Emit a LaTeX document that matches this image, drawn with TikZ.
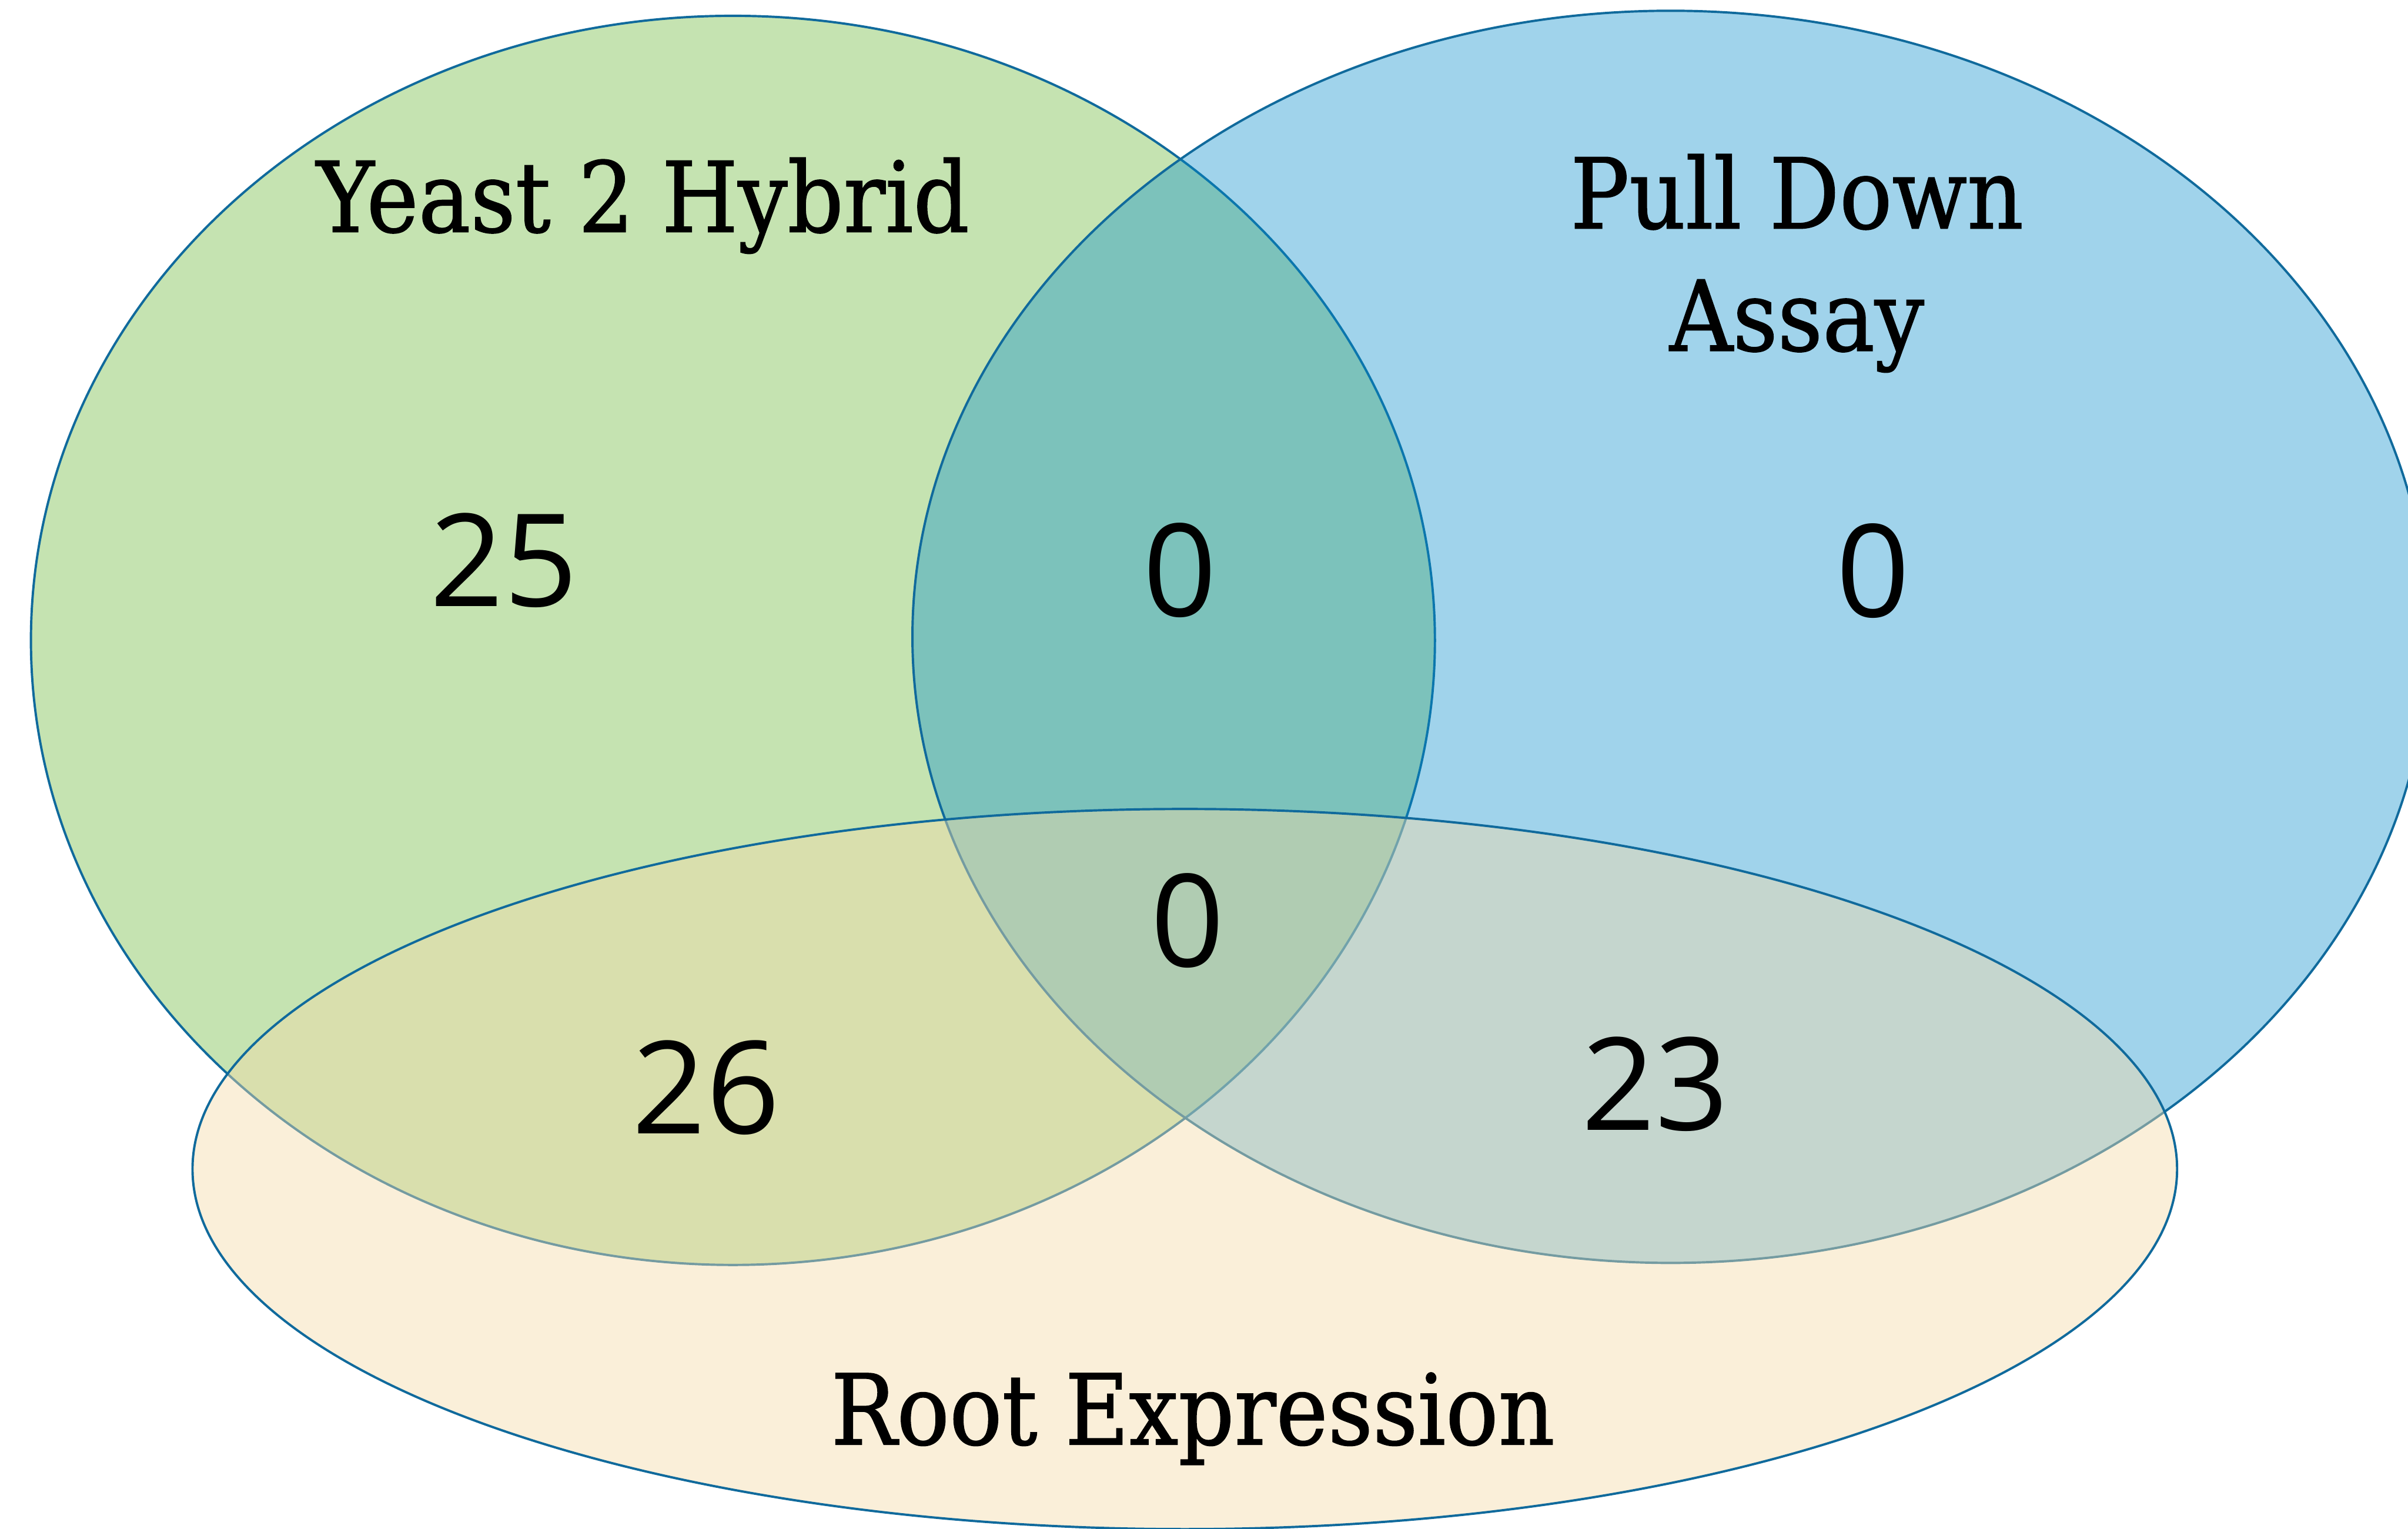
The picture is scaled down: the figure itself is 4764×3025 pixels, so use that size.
\documentclass[tikz,border=0pt]{standalone}
\usepackage{fontspec}
\newfontfamily\labfont[FakeStretch=0.895,FakeBold=1]{DejaVu Serif}
\newfontfamily\numfont{Open Sans}
\definecolor{edgeblue}{RGB}{16,106,156}
\definecolor{greenbase}{RGB}{110,185,60}
\definecolor{bluebase}{RGB}{5,139,202}
\definecolor{beigebase}{RGB}{244,219,169}
\tikzset{
  setline/.style={draw=edgeblue, line width=1.3pt},
  lab/.style={font=\labfont\fontsize{55}{66}\selectfont, anchor=base, inner sep=0pt, text=black},
  num/.style={font=\numfont\fontsize{72.5}{80}\selectfont, anchor=base, inner sep=0pt, text=black}
}
\begin{document}
\begin{tikzpicture}[x=0.01cm,y=-0.01cm]
\useasboundingbox (0,0) rectangle (4764,3025);
% sets
\path[setline, fill=greenbase, fill opacity=0.4] (1450,1267) ellipse [x radius=13.88cm, y radius=12.35cm];
\path[setline, fill=bluebase, fill opacity=0.38] (3305,1260) ellipse [x radius=14.99cm, y radius=12.38cm];
\path[setline, fill=beigebase, fill opacity=0.44] (2344,2313) ellipse [x radius=19.62cm, y radius=7.12cm];
% labels
\node[lab] (yth) at (1272,459) {Yeast 2 Hybrid};
\node[lab] (pd1) at (3555,452) {Pull Down};
\node[lab] (pd2) at (3555,694) {Assay};
\node[lab] (re) at (2360,2858) {Root Expression};
% counts
\node[num] (n25) at (997,1200) {25};
\node[num] (n0a) at (2335,1219) {0};
\node[num] (n0b) at (3706,1221) {0};
\node[num] (n0c) at (2350,1913) {0};
\node[num] (n26) at (1397,2243) {26};
\node[num] (n23) at (3275,2236) {23};
\end{tikzpicture}
\end{document}
